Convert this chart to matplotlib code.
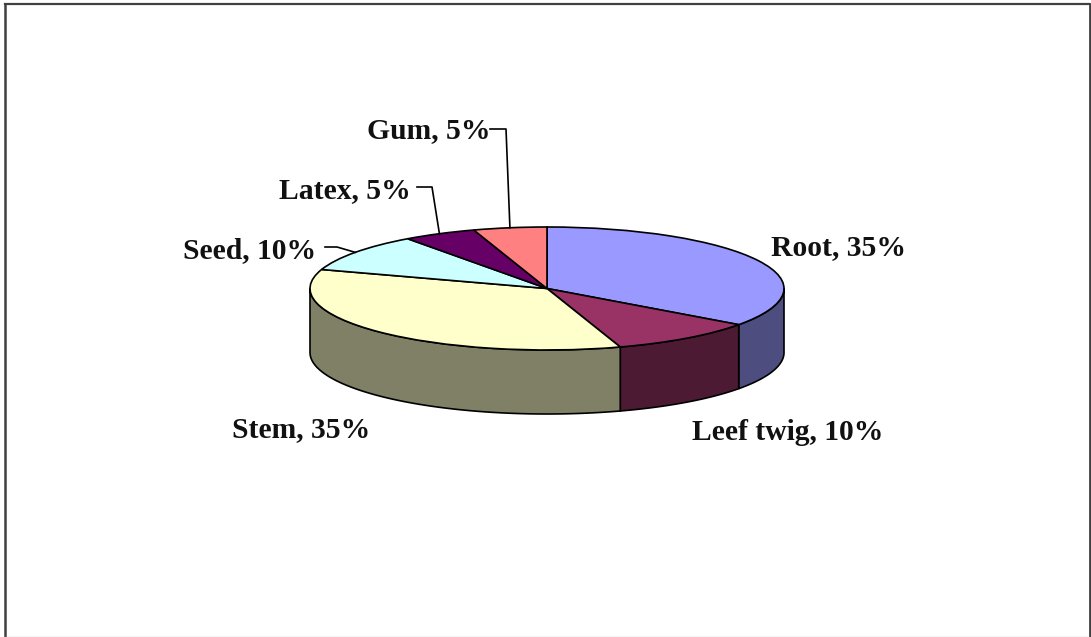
import numpy as np
import matplotlib
matplotlib.use('Agg')
import matplotlib.pyplot as plt

names = ['Root', 'Leef twig', 'Stem', 'Seed', 'Latex', 'Gum']
values = [35, 10, 35, 10, 5, 5]
top_colors = ['#9999FF', '#993366', '#FFFFCC', '#CCFFFF', '#660066', '#FF8080']
side_colors = ['#4D4D80', '#4D1A33', '#808066', '#668080', '#330033', '#804040']

# left end and baseline of each label, in picture pixels
label_x = [771, 692, 232, 183, 279, 367]
label_y = [255, 440, 437, 258, 198, 138]
# elbow of the leader line, None where the label has no leader
elbows = [None, None, None, (337, 247), (432, 187), (506, 129)]
leader_start = [None, None, None, (325, 247), (417, 187), (490, 129)]

W, H = 1091, 637
cx, cy, rx, ry, depth = 547, 288.5, 237, 61.5, 64


def px(x, y):
    # picture pixels to pie units
    return (x - cx) / rx, (cy - y) / ry


fig = plt.figure(figsize=(W / 100, H / 100), dpi=100, facecolor='white')
ax = fig.add_axes([0, 0, 1, 1])

ax.pie(values, colors=top_colors, startangle=90, counterclock=False,
       wedgeprops={'edgecolor': 'black', 'linewidth': 1.2, 'zorder': 3})
ax.set_aspect('auto')
ax.set_xlim(px(0, 0)[0], px(W, 0)[0])
ax.set_ylim(px(0, H)[1], px(0, 0)[1])
ax.axis('off')

# side of the pie, only the part facing us
edges = np.cumsum([0] + values) / sum(values) * 360
d = depth / ry
for i in range(len(values)):
    a0, a1 = max(edges[i], 90), min(edges[i + 1], 270)
    if a0 >= a1:
        continue
    t = np.radians(np.linspace(a0, a1, 80))
    xs, ys = np.sin(t), np.cos(t)
    ax.fill(np.r_[xs, xs[::-1]], np.r_[ys, ys[::-1] - d],
            facecolor=side_colors[i], edgecolor='black', linewidth=1.2, zorder=2)

# labels and leaders
for i, name in enumerate(names):
    x, y = px(label_x[i], label_y[i])
    ax.text(x, y, f'{name}, {values[i]}%', family='Liberation Serif', weight='bold',
            fontsize=21.3, color='#111111', ha='left', va='baseline', zorder=5)
    if elbows[i] is not None:
        mid = np.radians((edges[i] + edges[i + 1]) / 2)
        p0 = px(*leader_start[i])
        p1 = px(*elbows[i])
        ax.plot([p0[0], p1[0], np.sin(mid)], [p0[1], p1[1], np.cos(mid)],
                color='black', linewidth=1.2, zorder=4)

# outer frame
for (x0, y0, x1, y1), col, lw in [((5, 3.5, 1089, 3.5), '#404040', 1.6),
                                  ((5, 3.5, 5, 637), '#404040', 1.8),
                                  ((1089.5, 3.5, 1089.5, 637), '#404040', 2.0),
                                  ((5, 636.5, 1089, 636.5), '#B0B0B0', 0.9)]:
    a, b = px(x0, y0), px(x1, y1)
    ax.plot([a[0], b[0]], [a[1], b[1]], color=col, linewidth=lw, zorder=6)

fig.savefig('out.png', dpi=100)
